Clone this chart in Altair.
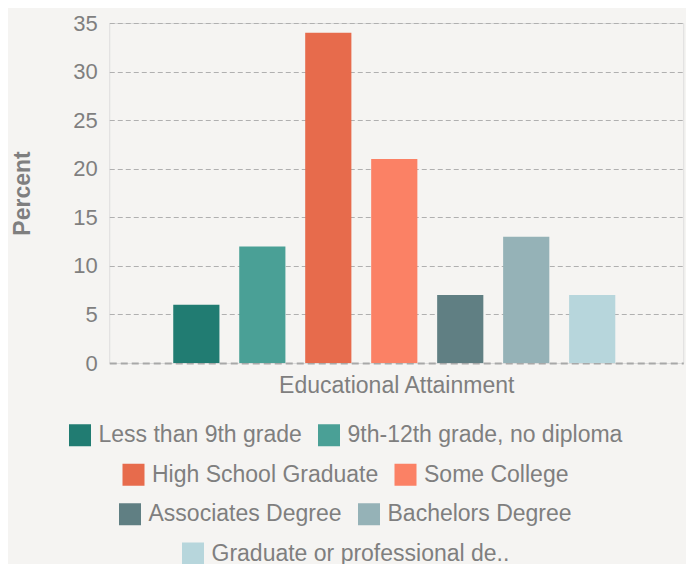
import altair as alt
import pandas as pd

categories = [
    "Less than 9th grade",
    "9th-12th grade, no diploma",
    "High School Graduate",
    "Some College",
    "Associates Degree",
    "Bachelors Degree",
    "Graduate or professional degree",
]
percent = [6, 12, 34, 21, 7, 13, 7]
colors = ["#217c72", "#4aa096", "#e76b4c", "#fb8165", "#607f83", "#95b2b7", "#b7d6dc"]
y_ticks = [0, 5, 10, 15, 20, 25, 30, 35]
legend_rows = [[0, 1], [2, 3], [4, 5], [6]]

FONT = "Liberation Sans"
GRAY = "#7f7f7f"
BG = "#f5f4f2"

df = pd.DataFrame({"category": categories, "percent": percent})

main = alt.Chart(df).mark_bar().encode(
    x=alt.X(
        "category:N",
        sort=categories,
        scale=alt.Scale(domain=categories, paddingInner=0.3, paddingOuter=1, align=0.485),
        axis=alt.Axis(
            labels=False, ticks=False, title="Educational Attainment",
            titleFontSize=23, titleFontWeight="normal", titleColor=GRAY, titleFont=FONT,
            titlePadding=11.5, domainColor="#a8a8a8", domainWidth=2, domainDash=[7, 4],
        ),
    ),
    y=alt.Y(
        "percent:Q",
        scale=alt.Scale(domain=[0, 35]),
        axis=alt.Axis(
            values=y_ticks, domain=False, ticks=False, labelFontSize=22, labelColor=GRAY,
            labelFont=FONT, labelPadding=12, grid=True, gridDash=[5, 3], gridColor="#b0b0b0",
            gridOpacity={"condition": {"test": "datum.value === 0", "value": 0}, "value": 1},
            title="Percent", titleFontSize=23, titleFontWeight="bold", titleColor=GRAY,
            titleFont=FONT, titlePadding=38,
        ),
    ),
    color=alt.Color("category:N", scale=alt.Scale(domain=categories, range=colors), legend=None),
).properties(width=574, height=340)

rows = []
for i, row in enumerate(legend_rows):
    rcats = [categories[j] for j in row]
    rcols = [colors[j] for j in row]
    rdf = pd.DataFrame({"category": rcats})
    rows.append(
        alt.Chart(rdf).mark_square(opacity=0, filled=True).encode(
            color=alt.Color(
                "category:N",
                scale=alt.Scale(domain=rcats, range=rcols),
                legend=alt.Legend(
                    title=None, orient="none", legendX=-102, legendY=10 if i == 0 else 0,
                    direction="horizontal", symbolType="square", symbolSize=484,
                    symbolStrokeWidth=0, symbolOpacity=1, labelFontSize=23,
                    labelColor=GRAY, labelFont=FONT, columnPadding=15, labelOffset=7,
                    labelLimit=400,
                    labelExpr="length(datum.label) > 28 ? slice(datum.label, 0, 27) + '..' : datum.label",
                ),
            )
        ).properties(width=1, height=1)
    )

chart = alt.vconcat(main, *rows, center=True, spacing=12.5).resolve_scale(
    color="independent"
).resolve_legend(color="independent").properties(
    padding={"left": 3, "top": 3, "right": 2, "bottom": 0},
    background=BG,
).configure_view(stroke=None).configure(font=FONT)

chart.save("out.html", embed_options={"renderer": "svg", "actions": False})
